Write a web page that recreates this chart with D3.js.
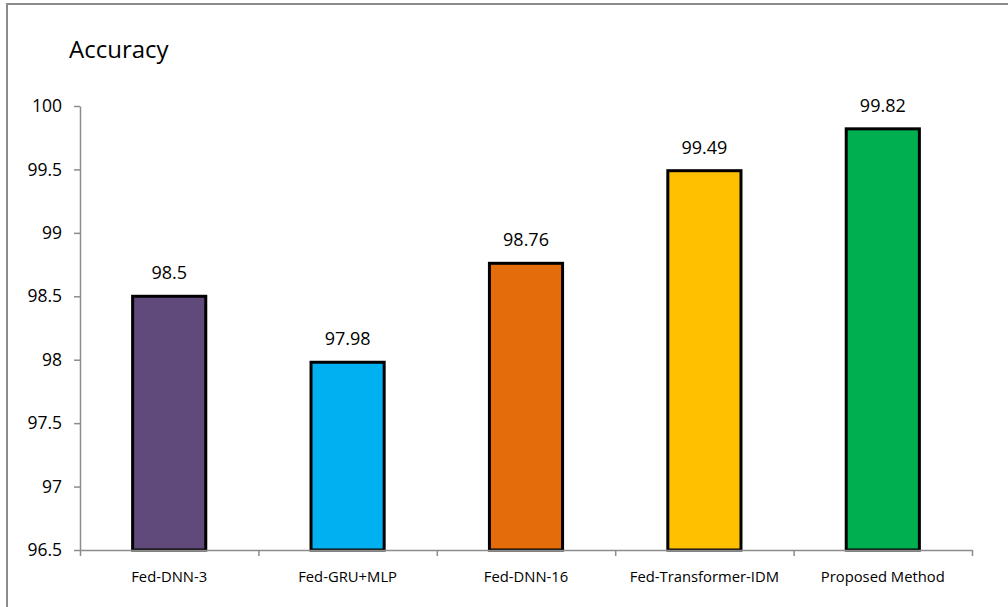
<!DOCTYPE html>
<html>
<head>
<meta charset="utf-8">
<script src="https://cdn.jsdelivr.net/npm/d3@7"></script>
<style>
  html, body { margin: 0; padding: 0; background: #fff; }
  svg { display: block; font-family: "Open Sans", "Noto Sans", sans-serif; }
</style>
</head>
<body>
<svg id="chart" width="1008" height="607"></svg>
<script>
// Accuracy of each federated model
const categories = ["Fed-DNN-3", "Fed-GRU+MLP", "Fed-DNN-16", "Fed-Transformer-IDM", "Proposed Method"];
const accuracy = [98.5, 97.98, 98.76, 99.49, 99.82];
const barColors = ["#604A7B", "#00B0F0", "#E46C0A", "#FFC000", "#00B050"];
const yTicks = [96.5, 97, 97.5, 98, 98.5, 99, 99.5, 100];

const svg = d3.select("#chart");

// outer frame
svg.append("rect")
  .attr("x", 7).attr("y", 4)
  .attr("width", 1010).attr("height", 610)
  .attr("fill", "none").attr("stroke", "#8c8c8c").attr("stroke-width", 2);

const plot = { left: 80, right: 972, top: 106, bottom: 550 };

const x = d3.scaleBand().domain(categories).range([plot.left, plot.right]).paddingInner(0.59).paddingOuter(0.295);
const y = d3.scaleLinear().domain([96.5, 100]).range([plot.bottom, plot.top]);

// title
svg.append("text")
  .attr("x", 69).attr("y", 58)
  .attr("font-size", 24).attr("fill", "#000")
  .text("Accuracy");

// y axis
const yAxis = svg.append("g")
  .attr("transform", `translate(${plot.left},0)`)
  .call(d3.axisLeft(y).tickValues(yTicks).tickSize(6).tickSizeOuter(0).tickFormat(d => String(d)));
yAxis.select(".domain").attr("stroke", "#8c8c8c").attr("stroke-width", 1.5);
yAxis.selectAll(".tick line").attr("stroke", "#8c8c8c").attr("stroke-width", 1.5);
yAxis.selectAll(".tick text").attr("font-size", 17.5).attr("fill", "#000").attr("x", -18)
  .attr("font-family", "'Open Sans', sans-serif");

// bars
svg.selectAll("rect.bar")
  .data(categories)
  .join("rect")
  .attr("class", "bar")
  .attr("x", d => x(d))
  .attr("width", x.bandwidth())
  .attr("y", (d, i) => y(accuracy[i]))
  .attr("height", (d, i) => plot.bottom - y(accuracy[i]))
  .attr("fill", (d, i) => barColors[i])
  .attr("stroke", "#000").attr("stroke-width", 3);

// x axis drawn over the bar bases
const xEdges = d3.scaleLinear().domain([0, categories.length]).range([plot.left, plot.right]);
const xAxis = svg.append("g")
  .attr("transform", `translate(0,${plot.bottom})`)
  .call(d3.axisBottom(xEdges).tickValues(d3.range(categories.length + 1)).tickSize(6).tickSizeOuter(0).tickFormat(""));
xAxis.select(".domain").attr("stroke", "#8c8c8c").attr("stroke-width", 1.5);
xAxis.selectAll(".tick line").attr("stroke", "#8c8c8c").attr("stroke-width", 1.5);

// category labels
svg.selectAll("text.cat")
  .data(categories)
  .join("text")
  .attr("class", "cat")
  .attr("x", d => x(d) + x.bandwidth() / 2)
  .attr("y", 582)
  .attr("text-anchor", "middle")
  .attr("font-size", 14.8).attr("fill", "#000")
  .text(d => d);

// value labels
svg.selectAll("text.val")
  .data(categories)
  .join("text")
  .attr("class", "val")
  .attr("x", d => x(d) + x.bandwidth() / 2)
  .attr("y", (d, i) => y(accuracy[i]) - 17)
  .attr("text-anchor", "middle")
  .attr("font-size", 18).attr("fill", "#000")
  .text((d, i) => String(accuracy[i]));
</script>
</body>
</html>
